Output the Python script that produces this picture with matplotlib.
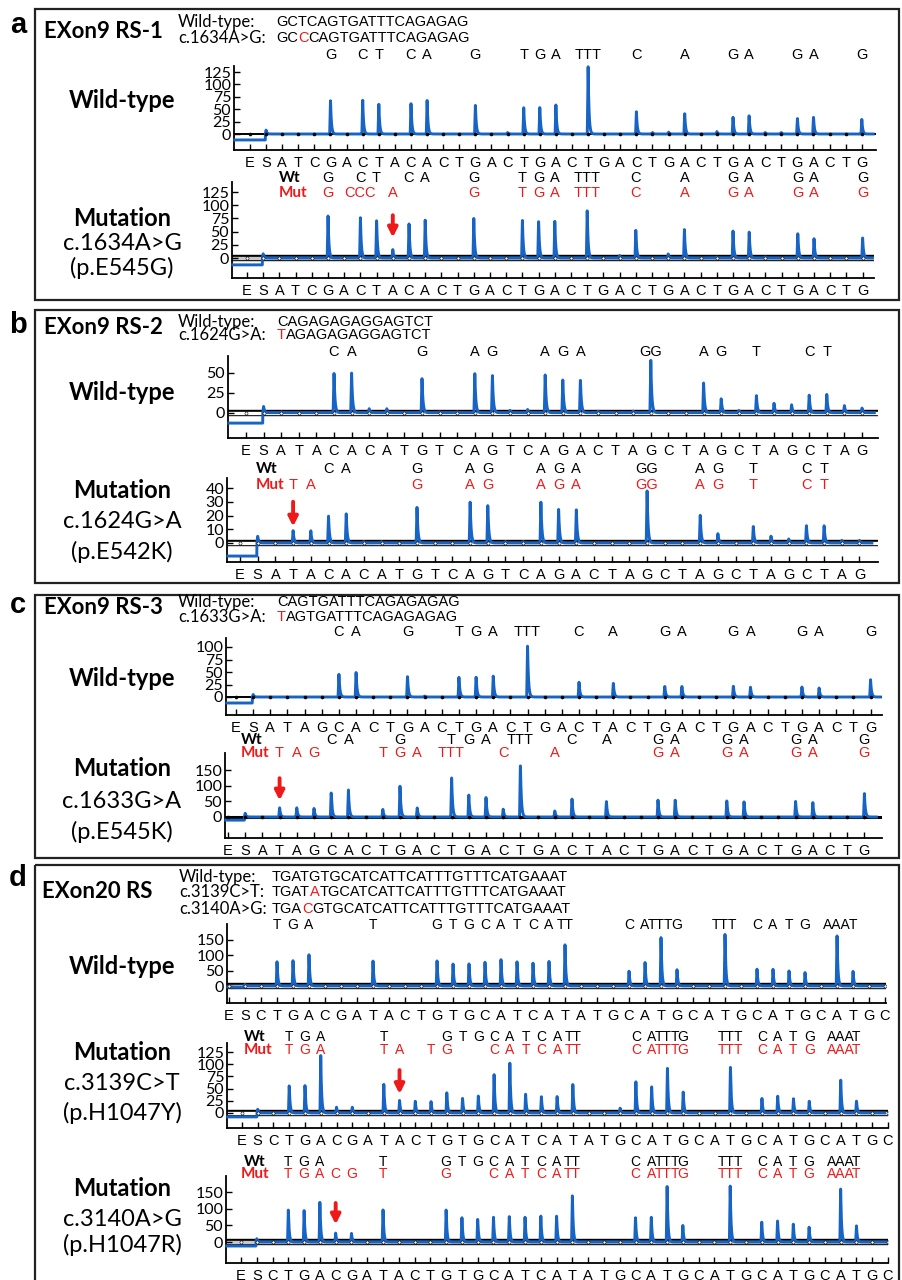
import numpy as np
import matplotlib
matplotlib.use("Agg")
import matplotlib.pyplot as plt
from matplotlib.transforms import Affine2D, blended_transform_factory
from matplotlib.patches import Rectangle

# ---------------- data ----------------
A_DISP = "ESATCGACTACACTGACTGACTGACTGACTGACTGACTG"
A_WT = [0, 8, 0, 0, 0, 69, 0, 69, 62, 0, 62, 68, 0, 0, 59, 0, 3, 55, 55, 59, 0, 140, 0, 0, 45, 3, 4, 42, 0, 5,
        35, 38, 3, 3, 32, 35, 0, 0, 30]
A_MUT = [0, 8, 0, 0, 0, 83, 0, 78, 73, 16, 67, 73, 0, 0, 75, 0, 0, 72, 72, 70, 0, 92, 0, 5, 53, 0, 8, 54, 0, 2,
         52, 51, 2, 0, 47, 37, 0, 0, 39]
A_WT_LAB = {5: 'G', 7: 'C', 8: 'T', 10: 'C', 11: 'A', 14: 'G', 17: 'T', 18: 'G', 19: 'A', 21: 'TTT', 24: 'C',
            27: 'A', 30: 'G', 31: 'A', 34: 'G', 35: 'A', 38: 'G'}
A_MUT_LAB = {5: 'G', 7: 'CCC', 9: 'A', 14: 'G', 17: 'T', 18: 'G', 19: 'A', 21: 'TTT', 24: 'C', 27: 'A',
             30: 'G', 31: 'A', 34: 'G', 35: 'A', 38: 'G'}
A_SEQ_WT = "GCTCAGTGATTTCAGAGAG"
A_SEQ_MUT = "GCCCAGTGATTTCAGAGAG"

B_DISP = "ESATACACATGTCAGTCAGACTAGCTAGCTAGCTAG"
B_WT = [0, 8, 1, 0, 0, 50, 50, 5, 5, 0, 44, 1, 1, 50, 47, 3, 4, 48, 42, 42, 2, 0, 2, 66, 0, 0, 38, 18, 3, 22,
        12, 10, 22, 23, 9, 6]
B_MUT = [0, 5, 0, 9, 9, 20, 22, 1, 1, 0, 26, 0, 0, 31, 28, 1, 1, 30, 25, 25, 0, 0, 0, 38, 0, 0, 21, 7, 0, 12,
         5, 3, 13, 13, 2, 2]
B_WT_LAB = {5: 'C', 6: 'A', 10: 'G', 13: 'A', 14: 'G', 17: 'A', 18: 'G', 19: 'A', 23: 'GG', 26: 'A', 27: 'G',
            29: 'T', 32: 'C', 33: 'T'}
B_MUT_LAB = {3: 'T', 4: 'A', 10: 'G', 13: 'A', 14: 'G', 17: 'A', 18: 'G', 19: 'A', 23: 'GG', 26: 'A', 27: 'G',
             29: 'T', 32: 'C', 33: 'T'}
B_SEQ_WT = "CAGAGAGAGGAGTCT"
B_SEQ_MUT = "TAGAGAGAGGAGTCT"

C_DISP = "ESATAGCACTGACTGACTGACTACTGACTGACTGACTG"
C_WT = [0, 5, 0, 0, 0, 0, 47, 51, 0, 0, 42, 2, 0, 40, 40, 42, 0, 102, 0, 0, 30, 0, 28, 0, 0, 22, 22, 0, 0, 22,
        20, 0, 0, 20, 18, 0, 0, 35]
C_MUT = [0, 12, 0, 30, 30, 28, 78, 89, 0, 25, 99, 30, 0, 130, 70, 65, 25, 170, 0, 20, 58, 0, 50, 0, 0, 55, 55,
         0, 0, 52, 50, 0, 0, 50, 48, 0, 0, 75]
C_WT_LAB = {6: 'C', 7: 'A', 10: 'G', 13: 'T', 14: 'G', 15: 'A', 17: 'TTT', 20: 'C', 22: 'A', 25: 'G', 26: 'A',
            29: 'G', 30: 'A', 33: 'G', 34: 'A', 37: 'G'}
C_MUT_LAB = {3: 'T', 4: 'A', 5: 'G', 9: 'T', 10: 'G', 11: 'A', 13: 'TTT', 16: 'C', 19: 'A', 25: 'G', 26: 'A',
             29: 'G', 30: 'A', 33: 'G', 34: 'A', 37: 'G'}
C_SEQ_WT = "CAGTGATTTCAGAGAGAG"
C_SEQ_MUT = "TAGTGATTTCAGAGAGAG"

D_DISP = "ESCTGACGATACTGTGCATCATATGCATGCATGCATGCATGC"
D_WT = [0, 5, 0, 82, 85, 104, 0, 0, 0, 82, 0, 0, 0, 85, 75, 75, 80, 88, 80, 75, 80, 135, 0, 0, 0, 50, 80, 165,
        55, 0, 0, 170, 0, 55, 55, 50, 45, 0, 170, 50, 0, 0]
D_MUT1 = [0, 8, 0, 57, 57, 118, 12, 12, 0, 61, 27, 25, 24, 42, 30, 35, 80, 105, 40, 35, 35, 60, 0, 0, 10, 65,
          55, 95, 45, 0, 0, 95, 0, 30, 35, 30, 25, 0, 70, 25, 0, 0]
D_MUT2 = [0, 10, 0, 97, 97, 123, 27, 27, 0, 99, 0, 0, 0, 97, 75, 70, 75, 80, 75, 80, 80, 140, 0, 0, 0, 75, 75,
          175, 50, 0, 0, 170, 0, 60, 65, 55, 45, 0, 160, 50, 0, 0]
D_WT_LAB = {3: 'T', 4: 'G', 5: 'A', 9: 'T', 13: 'G', 14: 'T', 15: 'G', 16: 'C', 17: 'A', 18: 'T', 19: 'C',
            20: 'A', 21: 'TT', 25: 'C', 26: 'A', 27: 'TTT', 28: 'G', 31: 'TTT', 33: 'C', 34: 'A', 35: 'T',
            36: 'G', 38: 'AAA', 39: 'T'}
D_MUT1_LAB = {3: 'T', 4: 'G', 5: 'A', 9: 'T', 10: 'A', 12: 'T', 13: 'G', 16: 'C', 17: 'A', 18: 'T', 19: 'C',
              20: 'A', 21: 'TT', 25: 'C', 26: 'A', 27: 'TTT', 28: 'G', 31: 'TTT', 33: 'C', 34: 'A', 35: 'T',
              36: 'G', 38: 'AAA', 39: 'T'}
D_MUT2_LAB = {3: 'T', 4: 'G', 5: 'A', 6: 'C', 7: 'G', 9: 'T', 13: 'G', 16: 'C', 17: 'A', 18: 'T', 19: 'C',
              20: 'A', 21: 'TT', 25: 'C', 26: 'A', 27: 'TTT', 28: 'G', 31: 'TTT', 33: 'C', 34: 'A', 35: 'T',
              36: 'G', 38: 'AAA', 39: 'T'}
D_SEQ_WT = "TGATGTGCATCATTCATTTGTTTCATGAAAT"
D_SEQ_M1 = "TGATATGCATCATTCATTTGTTTCATGAAAT"
D_SEQ_M2 = "TGACGTGCATCATTCATTTGTTTCATGAAAT"

# ---------------- style ----------------
plt.rcParams['font.family'] = ['Liberation Sans', 'DejaVu Sans']
W, H = 903, 1280
BLUE = '#1764c4'
RED = '#ee1a1a'
fig = plt.figure(figsize=(W / 100, H / 100), dpi=100)
PX = Affine2D().scale(1, -1).translate(0, H)
renderer = fig.canvas.get_renderer()


def ftext(x, y, s, **kw):
    kw.setdefault('va', 'center')
    return fig.text(x, y, s, transform=PX, **kw)


def trace_curve(heights, pre, xmin, xmax):
    x = np.linspace(xmin, xmax, 8000)
    y = np.zeros_like(x)
    y[x < 0.95] = pre
    for i, h in enumerate(heights):
        t = x - i
        rise = (t >= -0.05) & (t < 0)
        y[rise] += h * (t[rise] + 0.05) / 0.05
        dec = t >= 0
        y[dec] += h * np.exp(-t[dec] / 0.055)
    return x, y


def make_trace(disp, heights, L, R, T, B, x0, dx, y0, s, ticks, pre, base, dot):
    ax = fig.add_axes([L / W, 1 - B / H, (R - L) / W, (B - T) / H])
    n = len(disp)
    xmin, xmax = (L - x0) / dx, (R - x0) / dx
    ymin, ymax = (y0 - B) / s, (y0 - T) / s
    ax.set_xlim(xmin, xmax)
    ax.set_ylim(ymin, ymax)
    if base == 'line':
        ax.axhline(0, color='k', lw=1.4, zorder=1)
    elif base == 'thick':
        ax.axhline(0, color='k', lw=2.2, zorder=1)
    else:
        ax.axhline(0, color='k', lw=4.6, zorder=1)
        ax.axhline(0, color=base, lw=2.4, zorder=1.1)
    x, y = trace_curve(heights, pre, xmin + 0.05, min(xmax - 0.1, n - 0.3))
    ax.plot(x, y, color=BLUE, lw=2.1, zorder=3, clip_on=False, solid_joinstyle='round')
    ax.plot(np.arange(n), np.zeros(n), 'o', ms=2.2, mfc=dot, mec='k', mew=0.4, zorder=4)
    for sp in ['top', 'right']:
        ax.spines[sp].set_visible(False)
    for sp in ['left', 'bottom']:
        ax.spines[sp].set_linewidth(1.3)
    ax.set_xticks(np.arange(n))
    ax.set_xticklabels(list(disp))
    ax.tick_params(axis='x', direction='in', length=4, width=1, pad=4, labelsize=10.5)
    ax.set_yticks(ticks)
    ax.set_yticklabels([str(t) for t in ticks])
    ax.tick_params(axis='y', direction='in', length=4, width=1, pad=2)
    for lab in ax.get_yticklabels():
        lab.set_family('Lato')
        lab.set_fontsize(11.5)
    ax.patch.set_alpha(0)
    return ax


def row(ax, ypx, labels, color='k', size=10.5):
    tr = blended_transform_factory(ax.transData, PX)
    for i, s in labels.items():
        ax.text(i, ypx, s, transform=tr, ha='center', va='center', color=color, fontsize=size,
                clip_on=False)


def arrow(ax, i, tail, head):
    ax.annotate('', xy=(i, head), xytext=(i, tail),
                arrowprops=dict(arrowstyle='-|>,head_width=0.28,head_length=0.55', color=RED, lw=2.8,
                                shrinkA=0, shrinkB=0), zorder=6)


def seq_text(x, y, s, red_idx=None, size=10.5):
    if red_idx is None:
        ftext(x, y, s, fontsize=size)
        return
    parts = [(s[:red_idx], 'k'), (s[red_idx], RED), (s[red_idx + 1:], 'k')]
    cx = x
    for p, c in parts:
        if not p:
            continue
        t = ftext(cx, y, p, fontsize=size, color=c, ha='left')
        cx += t.get_window_extent(renderer=renderer).width


def header(letter, ly, title, ty, rows, seqx, top, bottom):
    fig.add_artist(Rectangle((35, top), 864, bottom - top, transform=PX, fill=False, lw=1.6, ec='#222222'))
    ftext(18, ly, letter, fontsize=21, fontweight='bold', ha='center')
    ftext(44, ty, title, fontsize=16, fontweight='bold', family='Lato', ha='left')
    for lab, y, seq, ridx in rows:
        ftext(178, y, lab, fontsize=12, family='Lato', ha='left')
        seq_text(seqx, y, seq, ridx)


def side(lines, ys):
    for (s, bold), y in zip(lines, ys):
        ftext(122, y, s, fontsize=17, family='Lato', fontweight='bold' if bold else 'normal', ha='center')


def wtmut(ax, x_wt, y_wt, x_mut, y_mut):
    ftext(x_wt, y_wt, 'Wt', fontsize=11, fontweight='bold', family='Lato', ha='center')
    ftext(x_mut, y_mut, 'Mut', fontsize=11, fontweight='bold', family='Lato', ha='center', color=RED)


# ---------------- panel a ----------------
header('a', 25, 'EXon9 RS-1', 32,
       [('Wild-type:', 22, A_SEQ_WT, None), ('c.1634A>G:', 38, A_SEQ_MUT, 2)], 276, 9, 300)
axa1 = make_trace(A_DISP, A_WT, 234, 876, 66, 150, 250, 16.1, 134, 0.496, [0, 25, 50, 75, 100, 125], -12,
                  'line', 'k')
row(axa1, 55, A_WT_LAB)
side([('Wild-type', True)], [100])
axa2 = make_trace(A_DISP, A_MUT, 232, 874, 182, 278, 247, 16.2, 258, 0.528, [0, 25, 50, 75, 100, 125], -13,
                  '#c8c8c8', 'w')
row(axa2, 178, A_WT_LAB)
row(axa2, 193, A_MUT_LAB, RED)
wtmut(axa2, 290, 178, 293, 193)
arrow(axa2, 9, 81, 39)
side([('Mutation', True), ('c.1634A>G', False), ('(p.E545G)', False)], [218, 243, 268])

# ---------------- panel b ----------------
header('b', 325, 'EXon9 RS-2', 327,
       [('Wild-type:', 322, B_SEQ_WT, None), ('c.1624G>A:', 335, B_SEQ_MUT, 0)], 277, 310, 583)
axb1 = make_trace(B_DISP, B_WT, 228, 878, 356, 438, 246, 17.6, 412.7, 0.8, [0, 25, 50], -13, 'w', 'w')
row(axb1, 352, B_WT_LAB)
side([('Wild-type', True)], [393])
axb2 = make_trace(B_DISP, B_MUT, 227, 878, 478, 562, 240, 17.7, 543, 1.375, [0, 10, 20, 30, 40], -9.5, 'w', 'w')
row(axb2, 469, B_WT_LAB)
row(axb2, 485, B_MUT_LAB, RED)
wtmut(axb2, 267, 469, 270, 485)
arrow(axb2, 3, 30, 12)
side([('Mutation', True), ('c.1624G>A', False), ('(p.E542K)', False)], [490, 522, 552])

# ---------------- panel c ----------------
header('c', 605, 'EXon9 RS-3', 608,
       [('Wild-type:', 602, C_SEQ_WT, None), ('c.1633G>A:', 617, C_SEQ_MUT, 0)], 277, 595, 858)
axc1 = make_trace(C_DISP, C_WT, 226, 882, 638, 715, 236, 17.15, 697, 0.5, [0, 25, 50, 75, 100], -12, 'line', 'k')
row(axc1, 632, C_WT_LAB)
side([('Wild-type', True)], [678])
axc2 = make_trace(C_DISP, C_MUT, 225, 882, 753, 838, 228, 17.2, 817, 0.313, [0, 50, 100, 150], -10, 'thick', 'k')
row(axc2, 740, C_WT_LAB)
row(axc2, 753, C_MUT_LAB, RED)
wtmut(axc2, 252, 740, 255, 753)
arrow(axc2, 3, 124, 53)
side([('Mutation', True), ('c.1633G>A', False), ('(p.E545K)', False)], [768, 802, 832])

# ---------------- panel d ----------------
fig.add_artist(Rectangle((35, 865), 864, 430, transform=PX, fill=False, lw=1.6, ec='#222222'))
ftext(18, 878, 'd', fontsize=21, fontweight='bold', ha='center')
ftext(42, 892, 'EXon20 RS', fontsize=16, fontweight='bold', family='Lato', ha='left')
for lab, y, seq, ridx in [('Wild-type:', 877, D_SEQ_WT, None), ('c.3139C>T:', 892, D_SEQ_M1, 4),
                          ('c.3140A>G:', 909, D_SEQ_M2, 3)]:
    ftext(179, y, lab, fontsize=12, family='Lato', ha='left')
    seq_text(272, y, seq, ridx)
axd1 = make_trace(D_DISP, D_WT, 227, 886, 924, 1003, 229, 16.0, 986, 0.307, [0, 50, 100, 150], -3, 'w', 'w')
row(axd1, 925, D_WT_LAB, size=10)
side([('Wild-type', True)], [967])
axd2 = make_trace(D_DISP, D_MUT1, 227, 888, 1043, 1128, 242, 15.8, 1113, 0.488, [0, 25, 50, 75, 100, 125], -8,
                  'w', 'w')
row(axd2, 1037, D_WT_LAB, size=10)
row(axd2, 1050, D_MUT1_LAB, RED, size=10)
wtmut(axd2, 255, 1037, 258, 1050)
arrow(axd2, 10, 88, 39)
side([('Mutation', True), ('c.3139C>T', False), ('(p.H1047Y)', False)], [1052, 1083, 1113])
axd3 = make_trace(D_DISP, D_MUT2, 226, 888, 1176, 1263, 241, 15.8, 1242, 0.333, [0, 50, 100, 150], -12,
                  '#c8c8c8', 'w')
row(axd3, 1162, D_WT_LAB, size=10)
row(axd3, 1174, D_MUT2_LAB, RED, size=10)
wtmut(axd3, 255, 1162, 255, 1174)
arrow(axd3, 6, 117, 53)
side([('Mutation', True), ('c.3140A>G', False), ('(p.H1047R)', False)], [1188, 1220, 1245])

fig.savefig('out.png', dpi=100)
